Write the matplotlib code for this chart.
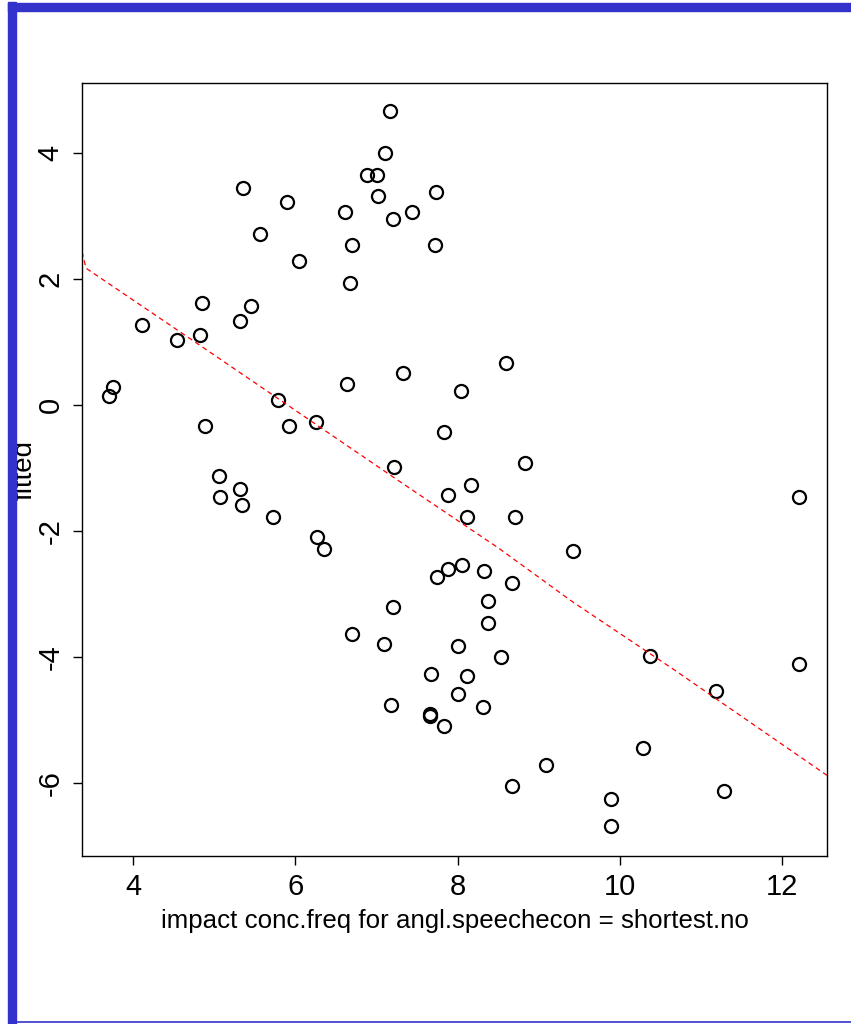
import numpy as np
import matplotlib
matplotlib.use("Agg")
import matplotlib.pyplot as plt
from matplotlib.patches import Rectangle
from matplotlib.lines import Line2D

plt.rcParams['font.family'] = ['Liberation Sans', 'DejaVu Sans']
plt.rcParams['axes.unicode_minus'] = False

# data
conc_freq = [7.17, 7.10, 6.88, 7.00, 5.35, 7.73, 5.90, 7.02, 6.61, 7.44,
             7.20, 5.56, 6.70, 7.72, 6.04, 6.67, 4.85, 5.45, 4.11, 5.32,
             4.83, 4.54, 3.75, 3.70, 8.59, 7.33, 6.64, 8.04, 5.79, 4.89,
             5.92, 6.25, 7.83, 8.83, 7.21, 5.06, 5.07, 5.32, 5.34, 8.16,
             7.88, 5.72, 8.11, 8.70, 12.20, 6.27, 6.35, 9.42, 8.05, 7.88,
             7.74, 8.32, 8.67, 8.37, 7.20, 8.37, 6.70, 8.00, 7.09, 10.37,
             8.53, 12.20, 7.67, 8.11, 11.18, 8.00, 7.18, 8.31, 7.66, 7.66,
             7.83, 10.28, 9.09, 8.67, 11.28, 9.89, 9.89]
fitted = [4.67, 4.00, 3.65, 3.65, 3.44, 3.38, 3.22, 3.32, 3.06, 3.06,
          2.95, 2.71, 2.54, 2.54, 2.29, 1.94, 1.62, 1.57, 1.27, 1.33,
          1.11, 1.03, 0.29, 0.14, 0.67, 0.51, 0.33, 0.22, 0.08, -0.33,
          -0.33, -0.27, -0.43, -0.92, -0.98, -1.13, -1.46, -1.33, -1.59, -1.27,
          -1.43, -1.78, -1.78, -1.78, -1.46, -2.10, -2.29, -2.32, -2.54, -2.60,
          -2.73, -2.63, -2.83, -3.11, -3.21, -3.46, -3.63, -3.83, -3.79, -3.98,
          -4.00, -4.11, -4.27, -4.30, -4.54, -4.59, -4.76, -4.79, -4.90, -4.94,
          -5.10, -5.44, -5.71, -6.05, -6.13, -6.25, -6.68]

# smoother
smooth_x = [3.37, 3.42, 4.83, 6.06, 7.29, 8.50, 9.42, 10.65, 12.55]
smooth_y = [2.43, 2.17, 0.94, -0.14, -1.22, -2.27, -3.13, -4.19, -5.88]

fig = plt.figure(figsize=(8.51, 10.24), dpi=100)
W, H = 851, 1024
ax = fig.add_axes([82 / W, 1 - 856 / H, 745 / W, 773 / H])

ax.plot(conc_freq, fitted, 'o', mfc='none', mec='black', ms=9.4, mew=1.6)
ax.plot(smooth_x, smooth_y, '--', color='red', lw=0.9, dashes=(4, 3))

ax.set_xlim(3.37, 12.55)
ax.set_ylim(-7.16, 5.11)
ax.set_xticks([4, 6, 8, 10, 12])
ax.set_yticks([-6, -4, -2, 0, 2, 4])
ax.tick_params(length=6.5, width=1, pad=6, labelsize=21)
ax.tick_params(axis='y', labelrotation=90)
for lab in ax.get_yticklabels():
    lab.set_va('center')

ax.set_xlabel('impact conc.freq for angl.speechecon = shortest.no', fontsize=18.6)
ax.xaxis.set_label_coords(0.5, -0.069)
for s in ax.spines.values():
    s.set_linewidth(1.0)

fig.text(25 / W, 1 - 470 / H, 'fitted', rotation=90, ha='center', va='center',
         fontsize=20, zorder=1)

# blue slide frame
blue = '#3333cc'
fig.add_artist(Rectangle((8 / W, 0), 8 / W, 1 - 2 / H, transform=fig.transFigure,
                         color=blue, zorder=10))
fig.add_artist(Rectangle((8 / W, 1 - 11 / H), 1 - 8 / W, 8 / H,
                         transform=fig.transFigure, color=blue, zorder=10))
fig.add_artist(Line2D([16 / W, 1], [2.5 / H, 2.5 / H], transform=fig.transFigure,
                      color=blue, lw=1.2, zorder=10))

fig.savefig('out.png', dpi=100)
